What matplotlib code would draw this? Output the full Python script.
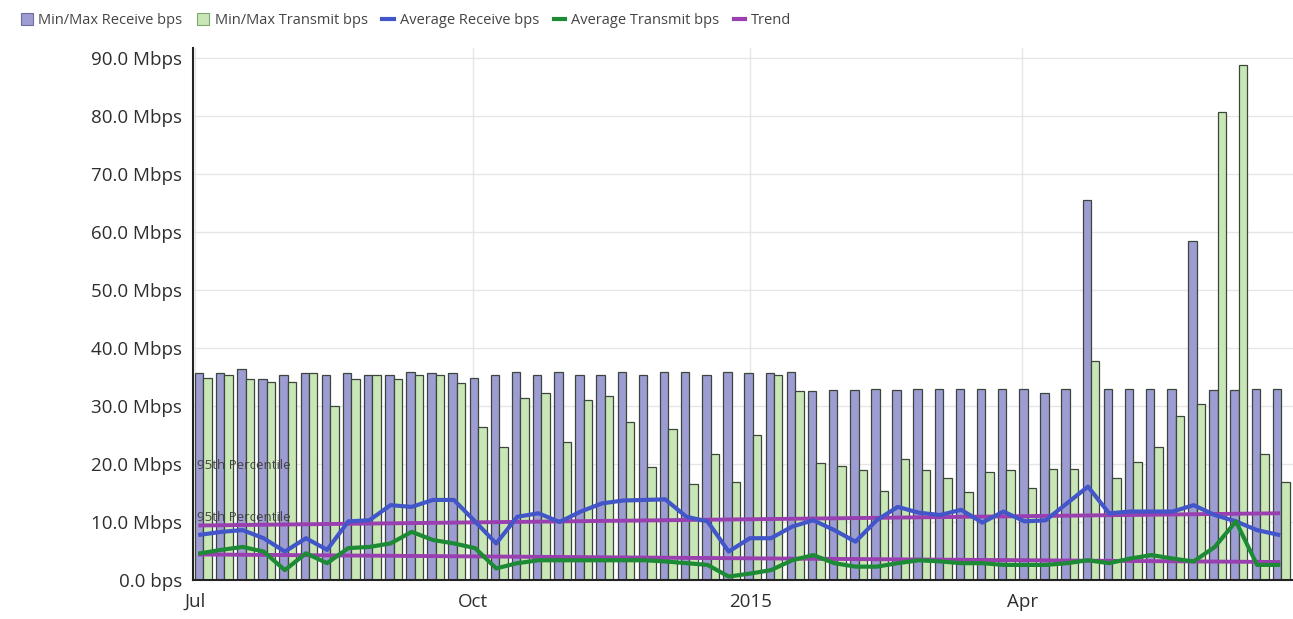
import datetime as dt
import numpy as np
import matplotlib
matplotlib.use("Agg")
import matplotlib.pyplot as plt
import matplotlib.dates as mdates
from matplotlib.patches import Patch
from matplotlib.lines import Line2D

plt.rcParams['font.family'] = ['Open Sans', 'DejaVu Sans']

# weekly samples, Mbps
week0 = dt.date(2014, 7, 1)
n_weeks = 52

rx_max = [35.7, 35.7, 36.3, 34.6, 35.3, 35.7, 35.3, 35.7, 35.3, 35.3,
          35.9, 35.7, 35.7, 34.9, 35.3, 35.9, 35.3, 35.9, 35.3, 35.3,
          35.9, 35.3, 35.9, 35.9, 35.3, 35.9, 35.7, 35.7, 35.9, 32.5,
          32.8, 32.8, 33.0, 32.8, 33.0, 33.0, 33.0, 33.0, 33.0, 33.0,
          32.2, 33.0, 65.5, 33.0, 33.0, 33.0, 33.0, 58.4, 32.8, 32.8,
          33.0, 33.0]
tx_max = [34.9, 35.3, 34.6, 34.2, 34.2, 35.7, 30.0, 34.6, 35.3, 34.6,
          35.3, 35.3, 33.9, 26.4, 23.0, 31.3, 32.2, 23.7, 31.0, 31.7,
          27.3, 19.4, 26.1, 16.5, 21.8, 16.9, 25.0, 35.3, 32.5, 20.1,
          19.7, 19.0, 15.4, 20.8, 19.0, 17.5, 15.1, 18.7, 19.0, 15.8,
          19.2, 19.2, 37.8, 17.5, 20.4, 23.0, 28.2, 30.3, 80.7, 88.8,
          21.8, 16.9]
rx_avg = [7.8, 8.3, 8.6, 7.2, 4.9, 7.2, 5.2, 10.1, 10.3, 12.9,
          12.6, 13.8, 13.8, 10.1, 6.3, 10.9, 11.5, 10.0, 11.8, 13.2,
          13.7, 13.8, 13.9, 10.9, 10.1, 4.9, 7.2, 7.2, 9.2, 10.3,
          8.6, 6.6, 10.3, 12.6, 11.6, 11.2, 12.1, 9.9, 11.8, 10.1,
          10.3, 13.2, 16.1, 11.5, 11.8, 11.8, 11.8, 12.9, 11.2, 10.1,
          8.6, 7.8]
tx_avg = [4.6, 5.2, 5.7, 4.9, 1.7, 4.6, 2.9, 5.5, 5.7, 6.3,
          8.3, 6.9, 6.3, 5.5, 2.0, 2.9, 3.4, 3.4, 3.4, 3.4,
          3.4, 3.4, 3.2, 2.9, 2.6, 0.6, 1.1, 1.7, 3.4, 4.3,
          2.9, 2.3, 2.3, 2.9, 3.4, 3.2, 2.9, 2.9, 2.6, 2.6,
          2.6, 2.9, 3.4, 2.9, 3.7, 4.3, 3.7, 3.2, 5.7, 10.1,
          2.6, 2.6]

# trend end points (first week, last week)
trend_rx = [9.4, 11.5]
trend_tx = [4.4, 3.1]
pct95_labels = [19.8, 10.8]

y_ticks = [0, 10, 20, 30, 40, 50, 60, 70, 80, 90]
x_ticks = [dt.date(2014, 7, 1), dt.date(2014, 10, 1), dt.date(2015, 1, 1), dt.date(2015, 4, 1)]
x_tick_labels = ['Jul', 'Oct', '2015', 'Apr']

weeks = [mdates.date2num(week0 + dt.timedelta(days=7 * i)) for i in range(n_weeks)]
weeks = np.array(weeks)

c_rx_bar = '#9d9cd3'
c_tx_bar = '#c9e7b6'
c_edge = '#3b473b'
c_rx_line = '#4256c9'
c_tx_line = '#1d8a35'
c_trend = '#9a3fb0'
c_text = '#2e2e2e'

fig = plt.figure(figsize=(12.93, 6.19), dpi=100)
ax = fig.add_axes([0.1493, 0.063, 0.8507, 0.8595])

bw = 2.8
ax.bar(weeks + 1.4, rx_max, width=bw, color=c_rx_bar, edgecolor=c_edge, linewidth=0.9, zorder=2)
ax.bar(weeks + 4.2, tx_max, width=bw, color=c_tx_bar, edgecolor=c_edge, linewidth=0.9, zorder=2)

xl = weeks + 1.8
ax.plot([xl[0], xl[-1]], trend_rx, color=c_trend, lw=2.8, zorder=3)
ax.plot([xl[0], xl[-1]], trend_tx, color=c_trend, lw=2.8, zorder=3)
ax.plot(xl, rx_avg, color=c_rx_line, lw=3, zorder=4, solid_joinstyle='round')
ax.plot(xl, tx_avg, color=c_tx_line, lw=3, zorder=4, solid_joinstyle='round')

for v in pct95_labels:
    ax.text(weeks[0] + 0.6, v, '95th Percentile', fontsize=9.5, color='#444444',
            va='center', ha='left', zorder=5)

ax.set_xlim(mdates.date2num(dt.date(2014, 6, 30)) + 0.4, mdates.date2num(dt.date(2015, 6, 29)) + 0.7)
ax.set_ylim(0, 91.7)
ax.set_yticks(y_ticks)
ax.set_yticklabels(['0.0 bps' if v == 0 else f'{v:.1f} Mbps' for v in y_ticks],
                   fontsize=13.5, color=c_text)
ax.set_xticks([mdates.date2num(d) for d in x_ticks])
ax.set_xticklabels(x_tick_labels, fontsize=13.5, color=c_text)
ax.tick_params(axis='y', length=0, pad=8)
ax.tick_params(axis='x', length=0, pad=9)

ax.grid(True, color='#e6e6e6', lw=1, zorder=0)
ax.set_axisbelow(True)
for s in ['top', 'right']:
    ax.spines[s].set_visible(False)
ax.spines['left'].set_color('#222222')
ax.spines['bottom'].set_color('#222222')
ax.spines['left'].set_linewidth(1.5)
ax.spines['bottom'].set_linewidth(1.5)

handles = [
    Patch(facecolor=c_rx_bar, edgecolor='#6d6da0', lw=0.8),
    Patch(facecolor=c_tx_bar, edgecolor='#7fa870', lw=0.8),
    Line2D([], [], color=c_rx_line, lw=3),
    Line2D([], [], color=c_tx_line, lw=3),
    Line2D([], [], color=c_trend, lw=3),
]
labels = ['Min/Max Receive bps', 'Min/Max Transmit bps', 'Average Receive bps',
          'Average Transmit bps', 'Trend']
fig.legend(handles, labels, loc='upper left', bbox_to_anchor=(0.006, 1.0), ncol=5,
           frameon=False, fontsize=10.5, handlelength=0.8, handleheight=0.9,
           handletextpad=0.4, columnspacing=1.0, labelcolor='#444444')

fig.savefig('out.png', dpi=100)
